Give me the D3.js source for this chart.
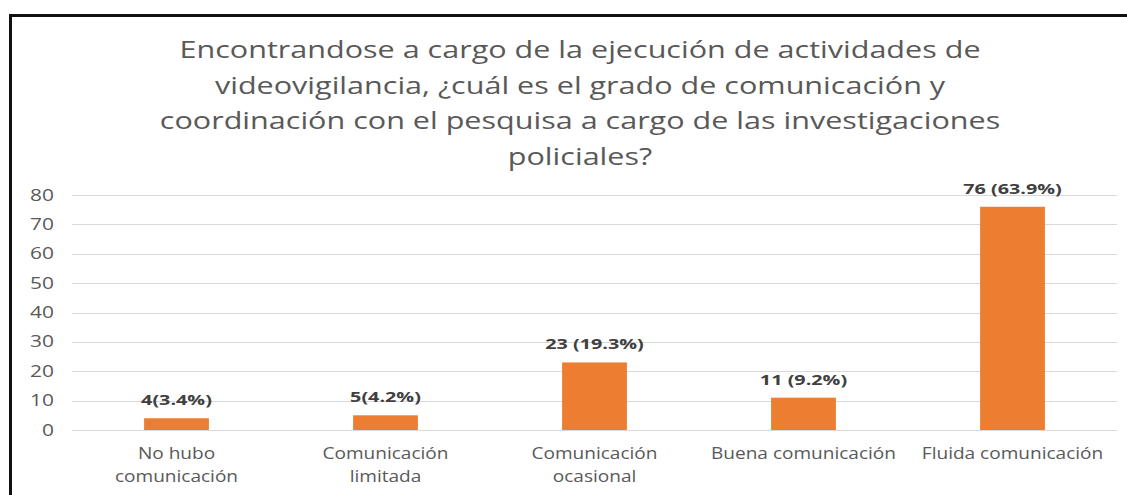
<!DOCTYPE html>
<html lang="es">

<head>
    <meta charset="UTF-8">
    <title>Comunicación y coordinación</title>
    <script src="https://d3js.org/d3.v7.min.js"></script>
    <style>
        body,
        html {
            margin: 0px;
            background: #fff;
        }

        text {
            font-family: "Open Sans", sans-serif;
        }
    </style>
</head>

<body>
    <div id="chart"></div>
    <script>
        const categories = [
            ["No hubo", "comunicación"],
            ["Comunicación", "limitada"],
            ["Comunicación", "ocasional"],
            ["Buena comunicación"],
            ["Fluida comunicación"]
        ];
        const values = [4, 5, 23, 11, 76];
        const valueLabels = ["4(3.4%)", "5(4.2%)", "23 (19.3%)", "11 (9.2%)", "76 (63.9%)"];
        const yTicks = [0, 10, 20, 30, 40, 50, 60, 70, 80];
        const titleLines = [
            "Encontrandose a cargo de la ejecución de actividades de",
            "videovigilancia, ¿cuál es el grado de comunicación y",
            "coordinación con el pesquisa a cargo de las investigaciones",
            "policiales?"
        ];

        const width = 1127, height = 495;
        const margin = { left: 72, right: 10, top: 195, bottom: 65 };

        // the source picture is stretched sideways, so texts get a horizontal scale
        const place = (px, py, sx) => "translate(" + px + "," + py + ") scale(" + sx + ",1)";

        const svg = d3.select("#chart")
            .append("svg")
            .attr("width", width)
            .attr("height", height);

        // frame (only top and left edges are visible in the picture)
        svg.append("path")
            .attr("d", "M10.5," + (height + 5) + "V15.5H" + (width + 5))
            .attr("fill", "none")
            .attr("stroke", "#111")
            .attr("stroke-width", 3);

        const x = d3.scaleBand()
            .domain(d3.range(values.length))
            .range([margin.left, width - margin.right])
            .paddingInner(0.69)
            .paddingOuter(0.345);

        const y = d3.scaleLinear()
            .domain([0, 80])
            .range([height - margin.bottom, margin.top]);

        // title
        svg.append("g")
            .selectAll("text")
            .data(titleLines)
            .enter().append("text")
            .attr("transform", (d, i) => place(580, 58 + i * 35.5, 1.3))
            .attr("text-anchor", "middle")
            .attr("fill", "#595959")
            .style("font-size", "23.5px")
            .text(d => d);

        // gridlines + y labels
        const grid = svg.append("g");
        grid.selectAll("line")
            .data(yTicks)
            .enter().append("line")
            .attr("x1", margin.left)
            .attr("x2", width - margin.right)
            .attr("y1", d => Math.round(y(d)) + 0.5)
            .attr("y2", d => Math.round(y(d)) + 0.5)
            .attr("stroke", "#d9d9d9")
            .attr("stroke-width", 1);

        grid.selectAll("text")
            .data(yTicks)
            .enter().append("text")
            .attr("transform", d => place(54, y(d), 1.35))
            .attr("dy", "0.36em")
            .attr("text-anchor", "end")
            .attr("fill", "#595959")
            .style("font-size", "15.5px")
            .text(d => d);

        // bars
        svg.append("g")
            .selectAll("rect")
            .data(values)
            .enter().append("rect")
            .attr("x", (d, i) => x(i))
            .attr("width", x.bandwidth())
            .attr("y", d => y(d))
            .attr("height", d => y(0) - y(d))
            .attr("fill", "#ED7D31");

        // value labels
        svg.append("g")
            .selectAll("text")
            .data(values)
            .enter().append("text")
            .attr("transform", (d, i) => place(x(i) + x.bandwidth() / 2, y(d) - 13, 1.32))
            .attr("text-anchor", "middle")
            .attr("fill", "#404040")
            .style("font-size", "15px")
            .style("font-weight", "bold")
            .text((d, i) => valueLabels[i]);

        // category labels
        const cats = svg.append("g")
            .selectAll("text")
            .data(categories)
            .enter().append("text")
            .attr("transform", (d, i) => place(x(i) + x.bandwidth() / 2, 459, 1.19))
            .attr("text-anchor", "middle")
            .attr("fill", "#595959")
            .style("font-size", "16px");

        cats.selectAll("tspan")
            .data(d => d)
            .enter().append("tspan")
            .attr("x", 0)
            .attr("dy", (d, i) => i === 0 ? 0 : 23.5)
            .text(d => d);
    </script>
</body>

</html>
